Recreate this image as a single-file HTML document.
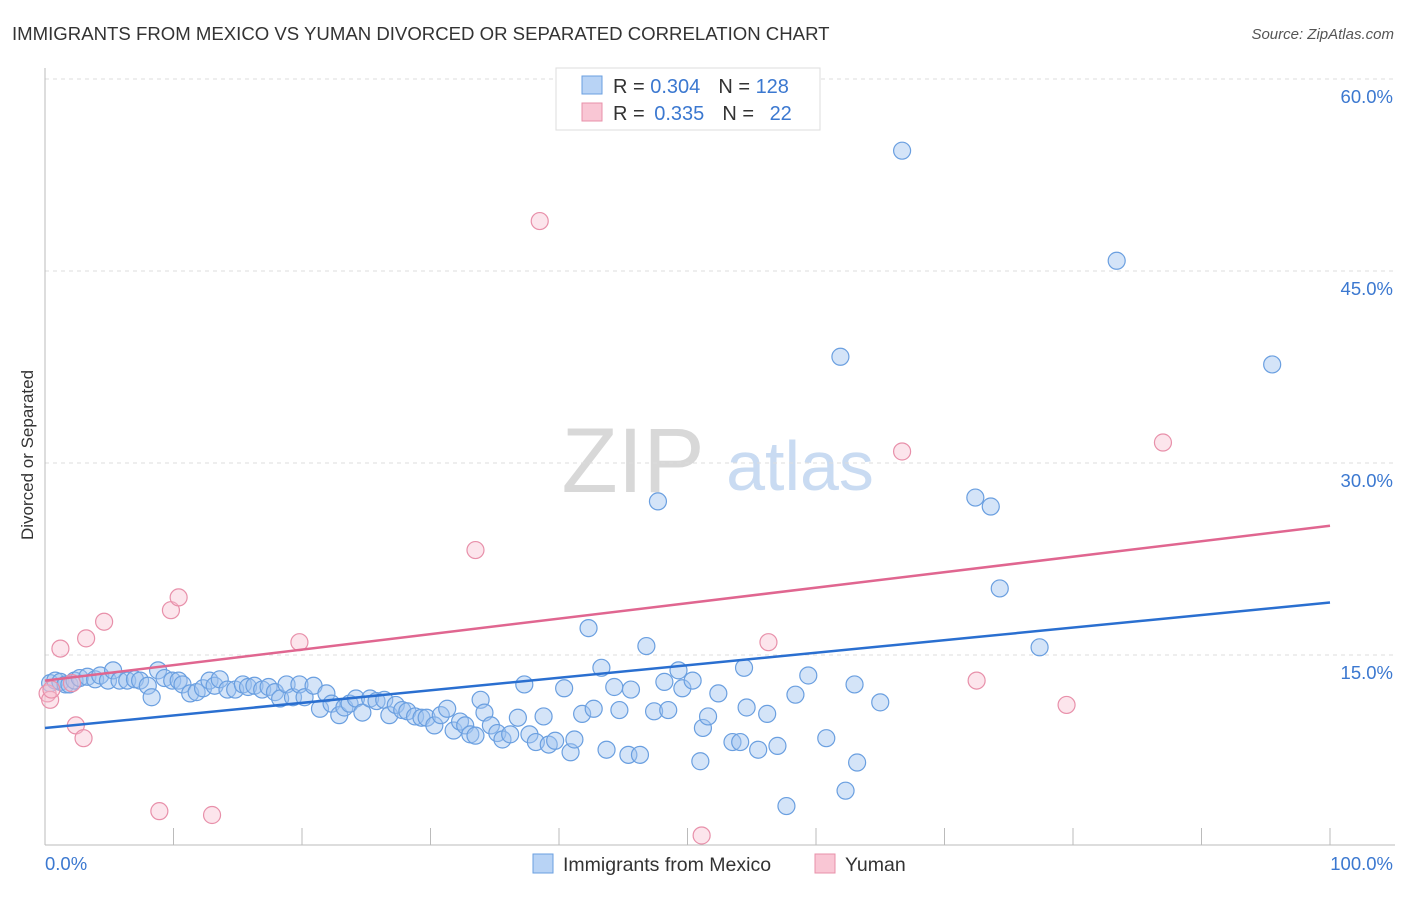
<!DOCTYPE html>
<html><head><meta charset="utf-8"><style>
body{margin:0;background:#fff;font-family:"Liberation Sans",sans-serif;}
svg text{font-family:"Liberation Sans",sans-serif;}
</style></head><body>
<svg id="chart" width="1406" height="892" viewBox="0 0 1406 892" xmlns="http://www.w3.org/2000/svg">
<text x="12" y="40" font-size="18.6" fill="#333">IMMIGRANTS FROM MEXICO VS YUMAN DIVORCED OR SEPARATED CORRELATION CHART</text>
<text x="1394" y="39" font-size="15" fill="#555" font-style="italic" text-anchor="end">Source: ZipAtlas.com</text>
<g>
<text x="633" y="492" font-size="92" fill="#d8d8d8" font-family="Liberation Serif" text-anchor="middle">ZIP</text>
<text x="800" y="490" font-size="70" fill="#c9dbf2" text-anchor="middle">atlas</text>
</g>
<g id="grid"></g>
<g id="axes"></g>
<text transform="translate(33,455) rotate(-90)" font-size="17" fill="#333" text-anchor="middle">Divorced or Separated</text>
<g id="pts"></g>
<g id="lines"></g>
<g>
<rect x="556" y="68" width="264" height="62" fill="#fff" stroke="#ddd"/>
<rect x="582" y="76" width="20" height="18" fill="#b8d3f5" stroke="#6a9fe0"/>
<rect x="582" y="103" width="20" height="18" fill="#f9c6d4" stroke="#e890aa"/>
<text x="613" y="93" font-size="20" fill="#333">R = <tspan fill="#3b78d0">0.304</tspan><tspan dx="18">N = </tspan><tspan fill="#3b78d0">128</tspan></text>
<text x="613" y="120" font-size="20" fill="#333">R = <tspan fill="#3b78d0" dx="4">0.335</tspan><tspan dx="18">N = </tspan><tspan fill="#3b78d0" dx="10">22</tspan></text>
</g>
<g>
<rect x="533" y="854" width="20" height="19" fill="#b8d3f5" stroke="#6a9fe0"/>
<text x="563" y="871" font-size="19.5" fill="#333">Immigrants from Mexico</text>
<rect x="815" y="854" width="20" height="19" fill="#f9c6d4" stroke="#e890aa"/>
<text x="845" y="871" font-size="19.5" fill="#333">Yuman</text>
</g>
</svg>
<script>
const yTicks=[15,30,45,60];
const yTickLabels=["15.0%","30.0%","45.0%","60.0%"];
const xTickValues=[0,10,20,30,40,50,60,70,80,90,100];
const blueX=[0.4,0.8,1.2,1.6,1.9,2.3,2.7,3.3,3.9,4.3,4.9,5.3,5.8,6.4,7.0,7.4,8.0,8.3,8.8,9.3,9.9,10.4,10.7,11.3,11.8,12.3,12.8,13.2,13.6,14.2,14.8,15.4,15.8,16.3,16.9,17.4,17.9,18.3,18.8,19.3,19.8,20.2,20.9,21.4,21.9,22.3,22.9,23.3,23.7,24.2,24.7,25.3,25.8,26.4,26.8,27.3,27.8,28.2,28.8,29.3,29.7,30.3,30.8,31.3,31.8,32.3,32.7,33.1,33.5,33.9,34.2,34.7,35.2,35.6,36.2,36.8,37.3,37.7,38.2,38.8,39.2,39.7,40.4,40.9,41.2,41.8,42.3,42.7,43.3,43.7,44.3,44.7,45.6,45.4,46.3,46.8,47.4,47.7,48.2,48.5,49.3,49.6,50.4,51.0,51.2,51.6,52.4,53.5,54.4,54.6,54.1,55.5,56.2,57.0,57.7,58.4,59.4,60.8,61.9,62.3,63.0,63.2,65.0,66.7,72.4,73.6,74.3,77.4,83.4,95.5];
const blueY=[12.8,13.0,12.9,12.7,12.7,13.0,13.2,13.3,13.1,13.4,13.0,13.8,13.0,13.0,13.1,13.0,12.6,11.7,13.8,13.2,13.0,13.0,12.7,12.0,12.1,12.4,13.0,12.6,13.1,12.3,12.3,12.7,12.5,12.6,12.3,12.5,12.1,11.6,12.7,11.7,12.7,11.7,12.6,10.8,12.0,11.2,10.3,10.9,11.2,11.6,10.5,11.6,11.4,11.5,10.3,11.1,10.7,10.6,10.2,10.1,10.1,9.5,10.3,10.8,9.1,9.8,9.5,8.8,8.7,11.5,10.5,9.5,8.9,8.4,8.8,10.1,12.7,8.8,8.2,10.2,8.0,8.3,12.4,7.4,8.4,10.4,17.1,10.8,14.0,7.6,12.5,10.7,12.3,7.2,7.2,15.7,10.6,27.0,12.9,10.7,13.8,12.4,13.0,6.7,9.3,10.2,12.0,8.2,14.0,10.9,8.2,7.6,10.4,7.9,3.2,11.9,13.4,8.5,38.3,4.4,12.7,6.6,11.3,54.4,27.3,26.6,20.2,15.6,45.8,37.7];
const pinkX=[0.2,0.4,0.5,1.2,2.1,2.4,3.0,3.2,4.6,8.9,9.8,10.4,13.0,19.8,33.5,38.5,51.1,56.3,66.7,72.5,79.5,87.0];
const pinkY=[12.0,11.5,12.3,15.5,12.8,9.5,8.5,16.3,17.6,2.8,18.5,19.5,2.5,16.0,23.2,48.9,0.9,16.0,30.9,13.0,11.1,31.6];
const blueTrend=[9.3,19.1];
const pinkTrend=[13.0,25.1];
const NS="http://www.w3.org/2000/svg";
const X0=45,X1=1330,YB=847,PPU=12.8;
const sx=v=>X0+(X1-X0)*v/100;
const sy=v=>YB-v*PPU;
function mk(tag,attrs,parent){const e=document.createElementNS(NS,tag);for(const k in attrs)e.setAttribute(k,attrs[k]);parent.appendChild(e);return e;}
const grid=document.getElementById('grid'),axes=document.getElementById('axes');
yTicks.forEach((t,i)=>{
  const l=mk('line',{x1:45,x2:1395,y1:sy(t),y2:sy(t),stroke:'#ddd','stroke-dasharray':'4,4'},grid);
  
  
  const tx=mk('text',{x:1393,y:sy(t)+24,'font-size':18.5,fill:'#3b78d0','text-anchor':'end'},axes);
  tx.textContent=yTickLabels[i];
  
  
});
mk('line',{x1:45,x2:1395,y1:79,y2:79,stroke:'#ddd','stroke-dasharray':'4,4'},grid);
mk('line',{x1:45,x2:45,y1:68,y2:845,stroke:'#bbb'},axes);
mk('line',{x1:45,x2:1395,y1:845,y2:845,stroke:'#bbb'},axes);
xTickValues.forEach(v=>{
  const t=mk('line',{x1:sx(v),x2:sx(v),y1:828,y2:845,stroke:'#bbb'},axes);
  
  
});
const xl=mk('text',{x:45,y:870,'font-size':18.5,fill:'#3b78d0'},axes);xl.textContent='0.0%';


const xr=mk('text',{x:1393,y:870,'font-size':18.5,fill:'#3b78d0','text-anchor':'end'},axes);xr.textContent='100.0%';


const pts=document.getElementById('pts');
blueX.forEach((v,i)=>{
  const c=mk('circle',{cx:sx(v),cy:sy(blueY[i]),r:8.5,fill:'rgba(160,196,240,0.45)',stroke:'#6a9fe0','stroke-width':1.2},pts);
  
  
});
pinkX.forEach((v,i)=>{
  const c=mk('circle',{cx:sx(v),cy:sy(pinkY[i]),r:8.5,fill:'rgba(248,190,208,0.4)',stroke:'#e890aa','stroke-width':1.2},pts);
  
  
});
const lines=document.getElementById('lines');
const bl=mk('line',{x1:sx(0),y1:sy(blueTrend[0]),x2:sx(100),y2:sy(blueTrend[1]),stroke:'#2a6fd0','stroke-width':2.5},lines);


const pl=mk('line',{x1:sx(0),y1:sy(pinkTrend[0]),x2:sx(100),y2:sy(pinkTrend[1]),stroke:'#e06690','stroke-width':2.5},lines);


</script>
</body></html>
